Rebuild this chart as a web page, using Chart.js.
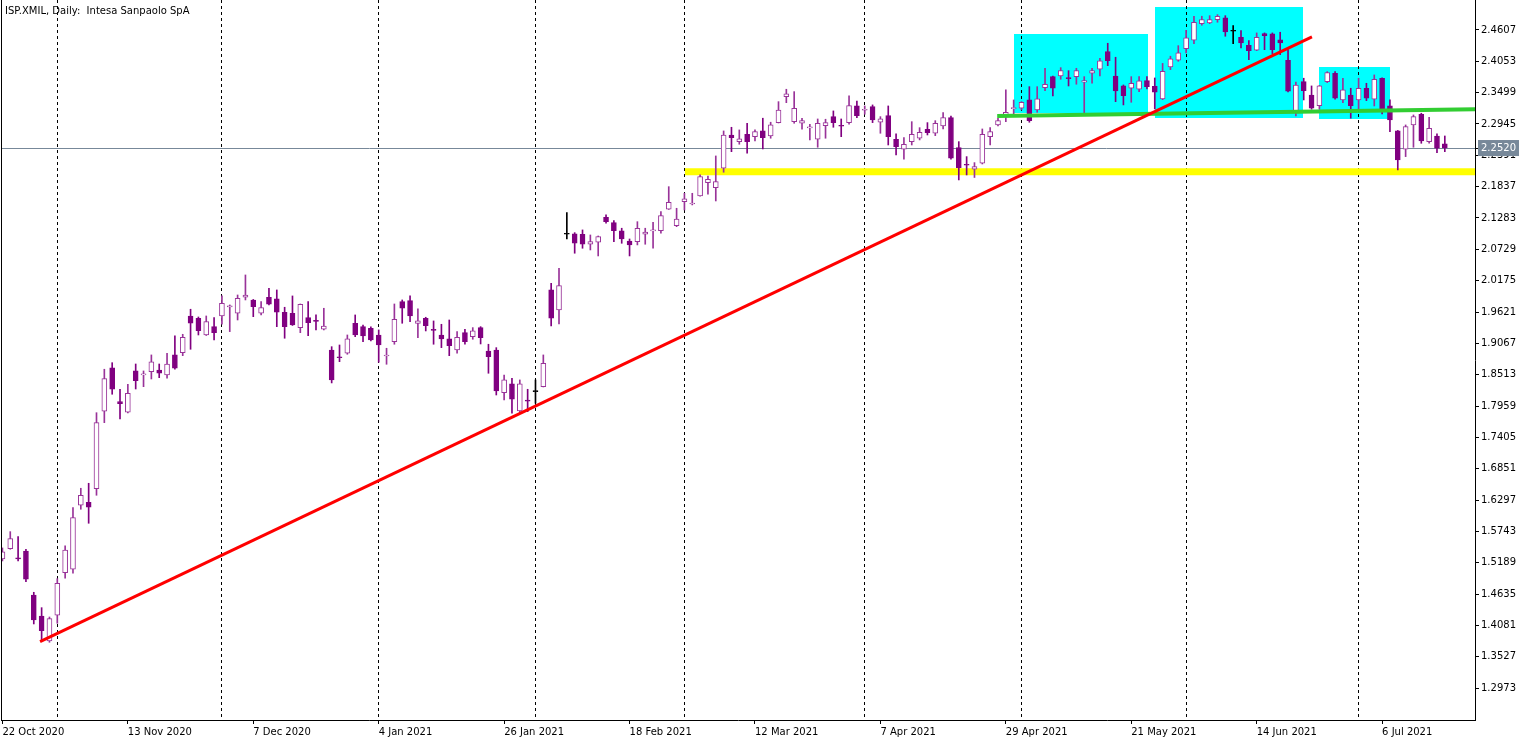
<!DOCTYPE html>
<html>
<head>
<meta charset="utf-8">
<title>ISP.XMIL, Daily</title>
<script src="https://cdn.jsdelivr.net/npm/chart.js@4.4.1/dist/chart.umd.min.js"></script>
<style>
  html, body { margin: 0; padding: 0; background: #fff; }
  #wrap { position: relative; width: 1536px; height: 743px; }
  #title { position: absolute; left: 5px; top: 5px; font: 10px "DejaVu Sans", sans-serif; color: #000; white-space: pre; pointer-events: none; }
</style>
</head>
<body>
<div id="wrap">
  <canvas id="priceChart" width="1536" height="743"></canvas>
  <div id="title">ISP.XMIL, Daily:  Intesa Sanpaolo SpA</div>
</div>
<script>
// daily candles, 22 Oct 2020 .. 16 Jul 2021 (bar index 0..184)
const opens = [
  1.5255, 1.5437, 1.5273, 1.5396, 1.4618, 1.4247, 1.3805, 1.4260, 1.5013, 1.5073,
  1.6204, 1.6257, 1.6498, 1.7866, 1.8632, 1.8036, 1.7849, 1.8579, 1.8508, 1.8567,
  1.8596, 1.8508, 1.8862, 1.8902, 1.9551, 1.9510, 1.9215, 1.9362, 1.9551, 1.9710,
  1.9599, 1.9882, 1.9834, 1.9599, 1.9882, 1.9852, 1.9617, 1.9599, 1.9344, 1.9521,
  1.9471, 1.9316, 1.8950, 1.8830, 1.8892, 1.9422, 1.9362, 1.9334, 1.9215, 1.8844,
  1.9097, 1.9804, 1.9822, 1.9419, 1.9510, 1.9313, 1.9215, 1.9145, 1.8950, 1.9256,
  1.9185, 1.9345, 1.8932, 1.8950, 1.8195, 1.8349, 1.7872, 1.8063, 1.8213, 1.8301,
  2.0011, 1.9657, 2.0996, 2.1001, 2.0996, 2.0819, 2.0854, 2.1296, 2.1201, 2.1054,
  2.0877, 2.0865, 2.0996, 2.1054, 2.1059, 2.1437, 2.1147, 2.1572, 2.1530, 2.1673,
  2.1908, 2.1820, 2.2162, 2.2751, 2.2633, 2.2764, 2.2721, 2.2822, 2.2733, 2.2969,
  2.3428, 2.2986, 2.2958, 2.2875, 2.2675, 2.2916, 2.3075, 2.2916, 2.2969, 2.3264,
  2.3188, 2.3252, 2.2976, 2.3092, 2.2675, 2.2498, 2.2633, 2.2693, 2.2852, 2.2781,
  2.2910, 2.3057, 2.2527, 2.2226, 2.2145, 2.2251, 2.2721, 2.2928, 2.3105, 2.3216,
  2.3223, 2.3370, 2.3193, 2.3587, 2.3782, 2.3794, 2.3759, 2.3782, 2.3683, 2.3842,
  2.3913, 2.4224, 2.3794, 2.3618, 2.3577, 2.3559, 2.3711, 2.3612, 2.3388, 2.3953,
  2.4072, 2.4277, 2.4425, 2.4719, 2.4731, 2.4790, 2.4820, 2.4585, 2.4479, 2.4337,
  2.4249, 2.4542, 2.4537, 2.4431, 2.4072, 2.3140, 2.3694, 2.3458, 2.3269, 2.3694,
  2.3842, 2.3370, 2.3458, 2.3370, 2.3577, 2.3382, 2.3754, 2.3264, 2.2822, 2.2498,
  2.2928, 2.3117, 2.2633, 2.2733, 2.2592
];
const highs = [
  1.5450, 1.5738, 1.5649, 1.5427, 1.4666, 1.4394, 1.4229, 1.4907, 1.5485, 1.6162,
  1.6505, 1.6593, 1.7841, 1.8609, 1.8725, 1.8255, 1.8344, 1.8702, 1.8579, 1.8862,
  1.8702, 1.8892, 1.9198, 1.9227, 1.9670, 1.9533, 1.9551, 1.9521, 1.9905, 1.9746,
  1.9922, 2.0276, 1.9843, 1.9804, 2.0041, 2.0011, 1.9705, 1.9905, 1.9763, 1.9804,
  1.9569, 1.9687, 1.9008, 1.9038, 1.9215, 1.9569, 1.9392, 1.9357, 1.9304, 1.8980,
  1.9763, 1.9834, 1.9905, 1.9675, 1.9528, 1.9463, 1.9404, 1.9480, 1.9274, 1.9316,
  1.9345, 1.9362, 1.9051, 1.8991, 1.8508, 1.8450, 1.8420, 1.8255, 1.8420, 1.8862,
  2.0129, 2.0394, 2.1378, 2.1024, 2.1072, 2.0983, 2.0965, 2.1337, 2.1236, 2.1102,
  2.0912, 2.1218, 2.1102, 2.1208, 2.1395, 2.1837, 2.1455, 2.1720, 2.1720, 2.2044,
  2.2026, 2.2380, 2.2822, 2.2887, 2.2840, 2.2958, 2.2840, 2.3047, 2.2976, 2.3340,
  2.3559, 2.3517, 2.3047, 2.2940, 2.3034, 2.3029, 2.3176, 2.3034, 2.3441, 2.3352,
  2.3264, 2.3282, 2.3075, 2.3264, 2.2769, 2.2703, 2.2986, 2.2880, 2.2969, 2.3004,
  2.3145, 2.3087, 2.2633, 2.2368, 2.2262, 2.2857, 2.2880, 2.3047, 2.3547, 2.3370,
  2.3340, 2.3605, 2.3605, 2.3930, 2.3794, 2.3941, 2.3888, 2.3930, 2.3782, 2.3930,
  2.4107, 2.4372, 2.4125, 2.3635, 2.3782, 2.3782, 2.3782, 2.3759, 2.4016, 2.4143,
  2.4330, 2.4602, 2.4850, 2.4850, 2.4860, 2.4878, 2.4860, 2.4684, 2.4595, 2.4418,
  2.4555, 2.4555, 2.4555, 2.4567, 2.4259, 2.3688, 2.3754, 2.3618, 2.3626, 2.3870,
  2.3870, 2.3754, 2.3577, 2.3754, 2.3665, 2.3812, 2.3759, 2.3370, 2.2831, 2.2928,
  2.3105, 2.3135, 2.3064, 2.2769, 2.2733
];
const lows = [
  1.5220, 1.5427, 1.5220, 1.4854, 1.4106, 1.3793, 1.3782, 1.4118, 1.4914, 1.5002,
  1.6134, 1.5886, 1.6381, 1.7665, 1.8167, 1.7730, 1.7836, 1.8260, 1.8301, 1.8437,
  1.8460, 1.8450, 1.8609, 1.8849, 1.8962, 1.9215, 1.9206, 1.9127, 1.9404, 1.9274,
  1.9480, 1.9834, 1.9539, 1.9569, 1.9746, 1.9362, 1.9157, 1.9383, 1.9256, 1.9203,
  1.9304, 1.9304, 1.8367, 1.8743, 1.8874, 1.9185, 1.9097, 1.9109, 1.8733, 1.8697,
  1.9051, 1.9422, 1.9450, 1.9168, 1.9286, 1.9051, 1.8991, 1.8849, 1.8892, 1.9051,
  1.9139, 1.9056, 1.8538, 1.8154, 1.8066, 1.7831, 1.7831, 1.7859, 1.8008, 1.8296,
  1.9374, 1.9410, 2.0912, 2.0660, 2.0748, 2.0718, 2.0612, 2.1190, 2.0865, 2.0836,
  2.0612, 2.0807, 2.0819, 2.0748, 2.1013, 2.1434, 2.1130, 2.1425, 2.1514, 2.1668,
  2.1703, 2.1584, 2.2092, 2.2456, 2.2587, 2.2428, 2.2645, 2.2504, 2.2693, 2.2963,
  2.3322, 2.2958, 2.2852, 2.2663, 2.2534, 2.2693, 2.2887, 2.2721, 2.2940, 2.3057,
  2.3117, 2.2969, 2.2781, 2.2574, 2.2398, 2.2322, 2.2574, 2.2663, 2.2751, 2.2739,
  2.2857, 2.2322, 2.1956, 2.2044, 2.1999, 2.2238, 2.2574, 2.2910, 2.2986, 2.3105,
  2.3193, 2.2976, 2.3153, 2.3534, 2.3441, 2.3736, 2.3617, 2.3648, 2.3135, 2.3665,
  2.3794, 2.3976, 2.3340, 2.3282, 2.3329, 2.3517, 2.3564, 2.3211, 2.3375, 2.3906,
  2.4054, 2.4201, 2.4365, 2.4691, 2.4719, 2.4744, 2.4496, 2.4365, 2.4289, 2.4083,
  2.4242, 2.4259, 2.4189, 2.4171, 2.3511, 2.3087, 2.3370, 2.3206, 2.3206, 2.3676,
  2.3382, 2.3322, 2.3047, 2.3206, 2.3358, 2.3264, 2.3123, 2.2810, 2.2133, 2.2368,
  2.2534, 2.2604, 2.2604, 2.2438, 2.2456
];
const closes = [
  1.5379, 1.5614, 1.5255, 1.4896, 1.4176, 1.3987, 1.4199, 1.4825, 1.5414, 1.5985,
  1.6381, 1.6169, 1.7665, 1.8443, 1.8255, 1.8001, 1.8185, 1.8407, 1.8526, 1.8738,
  1.8538, 1.8702, 1.8627, 1.9174, 1.9422, 1.9291, 1.9450, 1.9256, 1.9776, 1.9728,
  1.9864, 1.9922, 1.9716, 1.9698, 1.9758, 1.9617, 1.9362, 1.9392, 1.9758, 1.9433,
  1.9454, 1.9374, 1.8420, 1.8812, 1.9145, 1.9215, 1.9197, 1.9127, 1.9038, 1.8853,
  1.9493, 1.9687, 1.9551, 1.9463, 1.9380, 1.9295, 1.9145, 1.9026, 1.9174, 1.9097,
  1.9286, 1.9168, 1.8832, 1.8225, 1.8420, 1.8079, 1.8349, 1.8045, 1.8213, 1.8715,
  1.9510, 2.0087, 2.0996, 2.0836, 2.0819, 2.0865, 2.0953, 2.1218, 2.1059, 2.0912,
  2.0807, 2.1102, 2.1036, 2.1066, 2.1324, 2.1561, 2.1266, 2.1620, 2.1536, 2.2014,
  2.1968, 2.1926, 2.2751, 2.2703, 2.2681, 2.2633, 2.2810, 2.2703, 2.2928, 2.3193,
  2.3476, 2.3223, 2.3004, 2.2885, 2.2958, 2.2969, 2.2969, 2.2905, 2.3269, 2.3092,
  2.3199, 2.3016, 2.3034, 2.2721, 2.2544, 2.2587, 2.2764, 2.2799, 2.2792, 2.2958,
  2.3057, 2.2339, 2.2173, 2.2215, 2.2191, 2.2764, 2.2810, 2.3004, 2.3153, 2.3229,
  2.3329, 2.3004, 2.3388, 2.3648, 2.3577, 2.3888, 2.3748, 2.3888, 2.3711, 2.3888,
  2.4060, 2.4065, 2.3529, 2.3446, 2.3665, 2.3706, 2.3605, 2.3506, 2.3877, 2.4095,
  2.4201, 2.4466, 2.4744, 2.4790, 2.4790, 2.4850, 2.4572, 2.4585, 2.4378, 2.4242,
  2.4479, 2.4507, 2.4259, 2.4378, 2.3524, 2.3635, 2.3535, 2.3223, 2.3618, 2.3853,
  2.3400, 2.3547, 2.3269, 2.3577, 2.3400, 2.3736, 2.3193, 2.3016, 2.2309, 2.2898,
  2.3075, 2.2645, 2.2870, 2.2516, 2.2520
];

// time axis: labelled bars and first bar of each month
const tickLabels = ['22 Oct 2020', '13 Nov 2020', '7 Dec 2020', '4 Jan 2021', '26 Jan 2021', '18 Feb 2021',
                    '12 Mar 2021', '7 Apr 2021', '29 Apr 2021', '21 May 2021', '14 Jun 2021', '6 Jul 2021'];
const labelBars = [0, 16, 32, 48, 64, 80, 96, 112, 128, 144, 160, 176];
const monthBars = [7, 28, 48, 68, 87, 110, 130, 151, 173];

// price axis
const priceTicks = [2.4607, 2.4053, 2.3499, 2.2945, 2.2391, 2.1837, 2.1283, 2.0729, 2.0175, 1.9621, 1.9067,
                    1.8513, 1.7959, 1.7405, 1.6851, 1.6297, 1.5743, 1.5189, 1.4635, 1.4081, 1.3527, 1.2973];
const lastPrice = 2.2520;

// drawn objects (bar index, price)
const trendBars = [4.8, 167.05];
const trendPrices = [1.3793, 2.4484];
const neckBars = [126.9, 187.85];
const neckPrices = [2.3087, 2.3207];
const supportBars = [87.07, 187.85];
const supportPrices = [2.2100, 2.2100];
const boxFrom = [128.98, 147.03, 168.01];
const boxTo = [146.14, 165.95, 177.0];
const boxHigh = [2.4537, 2.5014, 2.3959];
const boxLow = [2.3140, 2.3043, 2.3025];

const upColor = '#993399';
const downColor = '#800080';

function candleColor(i) {
  if (closes[i] > opens[i]) return upColor;
  if (closes[i] < opens[i]) return downColor;
  return '#000000';
}

const boxesPlugin = {
  id: 'boxes',
  beforeDraw(chart) {
    const {ctx, chartArea, scales} = chart;
    ctx.save();
    ctx.beginPath();
    ctx.rect(chartArea.left, chartArea.top, chartArea.width, chartArea.height);
    ctx.clip();
    ctx.fillStyle = '#00ffff';
    boxFrom.forEach((b, k) => {
      const x0 = Math.round(scales.x.getPixelForValue(b));
      const x1 = Math.round(scales.x.getPixelForValue(boxTo[k]));
      const y0 = Math.round(scales.y.getPixelForValue(boxHigh[k]));
      const y1 = Math.round(scales.y.getPixelForValue(boxLow[k]));
      ctx.fillRect(x0, y0, x1 - x0, y1 - y0);
    });
    ctx.restore();
  }
};

const framePlugin = {
  id: 'frame',
  afterDraw(chart) {
    const {ctx, chartArea} = chart;
    ctx.save();
    ctx.strokeStyle = '#000';
    ctx.lineWidth = 1;
    ctx.beginPath();
    ctx.moveTo(chartArea.left + 0.5, chartArea.top);
    ctx.lineTo(chartArea.left + 0.5, chartArea.bottom);
    ctx.stroke();
    ctx.restore();
  }
};

const axisFont = {family: 'DejaVu Sans', size: 10};

new Chart(document.getElementById('priceChart').getContext('2d'), {
  type: 'bar',
  data: {
    datasets: [
      {
        type: 'line',
        label: 'trend',
        order: -1,
        data: trendBars.map((b, k) => ({x: b, y: trendPrices[k]})),
        borderColor: '#ff0000',
        borderWidth: 3,
        pointRadius: 0
      },
      {
        type: 'line',
        label: 'neckline',
        order: -1,
        data: neckBars.map((b, k) => ({x: b, y: neckPrices[k]})),
        borderColor: '#32cd32',
        borderWidth: 4,
        pointRadius: 0
      },
      {
        label: 'bodies',
        order: 1,
        grouped: false,
        barThickness: 5,
        minBarLength: 1,
        data: opens.map((o, i) => ({x: i, y: [o, closes[i]]})),
        backgroundColor: ctx => closes[ctx.dataIndex] > opens[ctx.dataIndex] ? '#ffffff' : candleColor(ctx.dataIndex),
        borderColor: ctx => candleColor(ctx.dataIndex),
        borderWidth: 1,
        borderSkipped: false
      },
      {
        label: 'wicks',
        order: 2,
        grouped: false,
        barThickness: 1,
        data: opens.map((o, i) => ({x: i, y: [lows[i], highs[i]]})),
        backgroundColor: ctx => candleColor(ctx.dataIndex),
        borderWidth: 0
      },
      {
        type: 'line',
        label: 'support',
        order: 3,
        data: supportBars.map((b, k) => ({x: b, y: supportPrices[k]})),
        borderColor: '#ffff00',
        borderWidth: 7,
        pointRadius: 0
      }
    ]
  },
  options: {
    responsive: false,
    animation: false,
    events: [],
    layout: {padding: {left: 1, right: 0, top: 0, bottom: 0}},
    plugins: {
      legend: {display: false},
      tooltip: {enabled: false}
    },
    scales: {
      x: {
        type: 'linear',
        min: -0.182,
        max: 187.85,
        bounds: 'data',
        offset: false,
        afterBuildTicks: s => {
          s.ticks = [...new Set([...labelBars, ...monthBars])].sort((a, b) => a - b).map(v => ({value: v}));
        },
        afterFit: s => { s.height = 23; s.paddingLeft = 0; s.paddingRight = 0; },
        grid: {
          offset: false,
          color: ctx => ctx.tick && monthBars.includes(ctx.tick.value) ? '#000000' : 'rgba(0,0,0,0)',
          tickColor: ctx => ctx.tick && labelBars.includes(ctx.tick.value) ? '#000000' : 'rgba(0,0,0,0)',
          tickLength: 4,
          lineWidth: 1
        },
        border: {display: true, color: '#000', width: 1, dash: [3, 3]},
        ticks: {
          autoSkip: false,
          maxRotation: 0,
          align: 'start',
          padding: 2,
          color: '#000',
          font: axisFont,
          callback: v => {
            const k = labelBars.indexOf(v);
            return k >= 0 ? tickLabels[k] : '';
          }
        }
      },
      y: {
        type: 'linear',
        position: 'right',
        min: 1.2408,
        max: 2.5137,
        bounds: 'data',
        beginAtZero: false,
        afterBuildTicks: s => {
          s.ticks = [...priceTicks, lastPrice].map(v => ({value: v}));
        },
        afterFit: s => { s.width = 61; s.paddingTop = 0; s.paddingBottom = 0; },
        grid: {
          color: ctx => ctx.tick && ctx.tick.value === lastPrice ? '#778899' : 'rgba(0,0,0,0)',
          tickColor: '#000',
          tickLength: 4,
          lineWidth: 1
        },
        border: {display: true, color: '#000', width: 1},
        ticks: {
          autoSkip: false,
          padding: 2,
          font: axisFont,
          color: ctx => ctx.tick && ctx.tick.value === lastPrice ? '#ffffff' : '#000000',
          showLabelBackdrop: ctx => !!(ctx.tick && ctx.tick.value === lastPrice),
          backdropColor: '#778899',
          backdropPadding: {x: 3, y: 2},
          callback: v => v.toFixed(4)
        }
      }
    }
  },
  plugins: [boxesPlugin, framePlugin]
});
</script>
</body>
</html>
